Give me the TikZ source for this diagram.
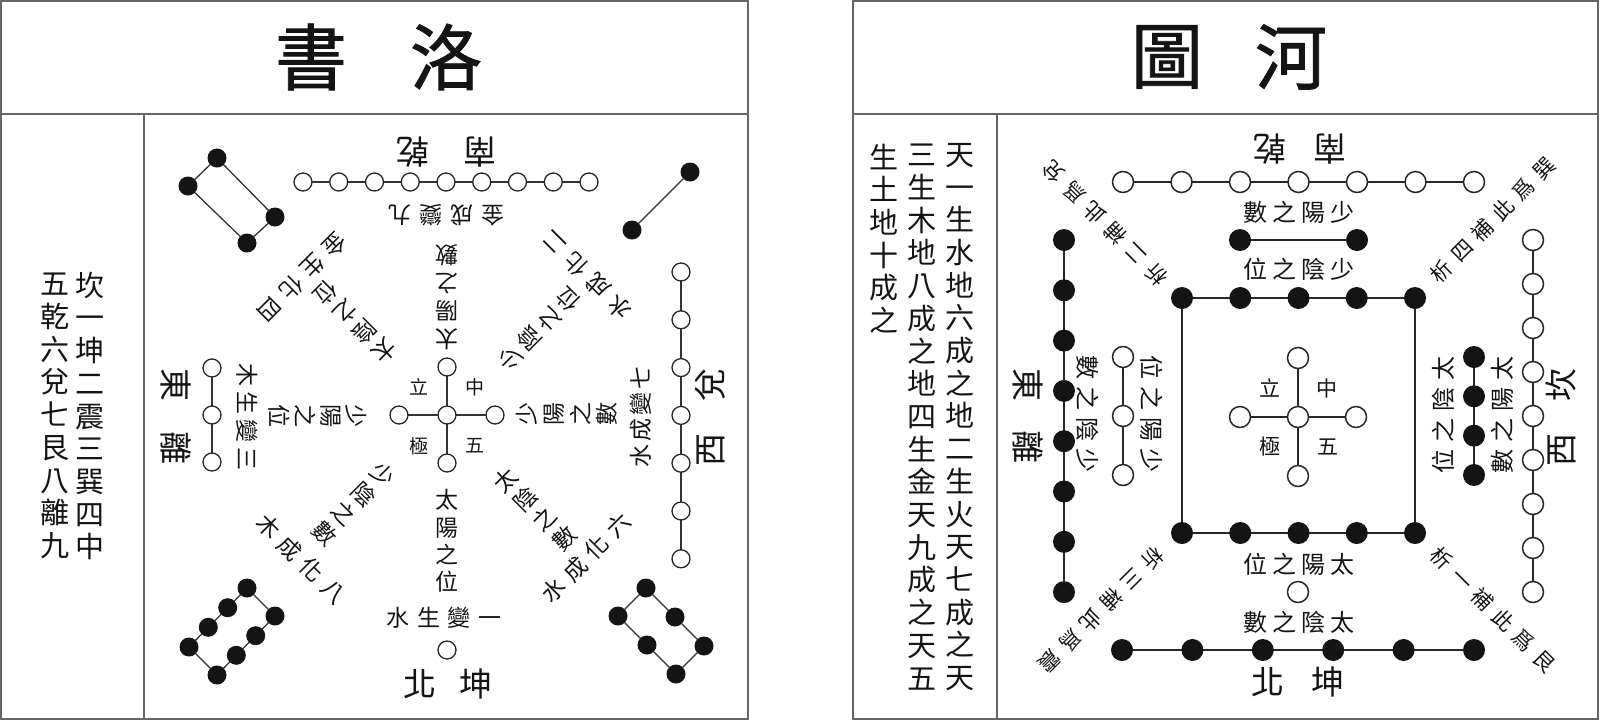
\documentclass[tikz,border=0pt]{standalone}
\usepackage{fontspec}
\newfontfamily\cjk{Noto Sans CJK TC}
\newfontfamily\cjkt[FakeBold=1.2]{Noto Sans CJK TC}
\usetikzlibrary{backgrounds}
\newlength\lgap
\newcommand\cf[3]{\fontsize{#1}{#2}\selectfont\cjk\setlength\lgap{#3}}
\newcommand\Kg{\hspace{\lgap}}
\begin{document}
\begin{tikzpicture}[x=1pt,y=-1pt,
  every node/.style={inner sep=0pt, outer sep=0pt, text=black!92},
  ocL/.style={circle, draw=black!85, line width=1.3pt, fill=white, minimum size=18pt},
  fcL/.style={circle, fill=black!92, minimum size=19pt},
  ocH/.style={circle, draw=black!85, line width=1.5pt, fill=white, minimum size=21pt},
  fcH/.style={circle, fill=black!92, minimum size=22pt},
  lnL/.style={draw=black!80, line width=1.3pt},
  lnH/.style={draw=black!85, line width=1.6pt},
  frame/.style={draw=black!60, line width=1.3pt},
  ttl/.style={font={\fontsize{72}{80}\selectfont\cjkt}},
  dir/.style={font={\cf{33}{38}{0pt}}},
  col/.style={font={\cf{29}{32.7}{0pt}}, align=center},
  cl/.style={font={\cf{19}{24}{0pt}}},
  rad/.style={font={\cf{23}{#1}{0pt}}, align=center},
  tan/.style={font={\cf{23}{28}{#1}}},
  hr/.style={font={\cf{24}{28}{5.3pt}}},
  hc/.style={font={\cf{24}{28}{7pt}}},
  hd/.style={font={\cf{21}{26}{8pt}}}
]
\useasboundingbox (0,0) rectangle (1600,721);

% ---------------- frames ----------------
\draw[frame] (1,1) rectangle (748,719);
\draw[frame] (1,114) -- (748,114);
\draw[frame] (144,114) -- (144,719);
\draw[frame] (853,1) rectangle (1598,719);
\draw[frame] (853,114) -- (1598,114);
\draw[frame] (997,114) -- (997,719);

% ---------------- titles ----------------
\node[ttl] (tL1) at (311,57) {書};
\node[ttl] (tL2) at (446,57) {洛};
\node[ttl] (tR1) at (1167,57) {圖};
\node[ttl] (tR2) at (1291,57) {河};

% ---------------- left texts ----------------
\node[col] (lt1) at (90,416) {坎\\一\\坤\\二\\震\\三\\巽\\四\\中};
\node[col] (lt2) at (55,416) {五\\乾\\六\\兌\\七\\艮\\八\\離\\九};
\node[col] (ht1) at (960,417) {天\\一\\生\\水\\地\\六\\成\\之\\地\\二\\生\\火\\天\\七\\成\\之\\天};
\node[col] (ht2) at (922,417) {三\\生\\木\\地\\八\\成\\之\\地\\四\\生\\金\\天\\九\\成\\之\\天\\五};
\node[col] (ht3) at (884,238.5) {生\\土\\地\\十\\成\\之};

% ================= LUOSHU =================
\node[ocL] (lc) at (447,415) {};
\node[ocL] (lcN) at (447,367) {};
\node[ocL] (lcS) at (447,463) {};
\node[ocL] (lcW) at (399,415) {};
\node[ocL] (lcE) at (495,415) {};
\foreach \i in {1,...,9} \node[ocL] (ls\i) at ({303+35.75*(\i-1)},182) {};
\node[ocL] (ln1) at (447,650) {};
\foreach \i/\y in {1/368,2/415,3/462} \node[ocL] (le\i) at (212,\y) {};
\foreach \i in {1,...,7} \node[ocL] (lw\i) at (681,{272+47.8*(\i-1)}) {};
% NW four
\node[fcL] (nw1) at (217,158) {};
\node[fcL] (nw2) at (188,186) {};
\node[fcL] (nw3) at (247,243) {};
\node[fcL] (nw4) at (275,217) {};
% NE two
\node[fcL] (ne1) at (690,172) {};
\node[fcL] (ne2) at (632,230) {};
% SW eight
\node[fcL] (sw1) at (247,588) {};
\node[fcL] (sw2) at (227.7,607.7) {};
\node[fcL] (sw3) at (208.3,627.3) {};
\node[fcL] (sw4) at (189,647) {};
\node[fcL] (sw5) at (217,675) {};
\node[fcL] (sw6) at (236.3,655.3) {};
\node[fcL] (sw7) at (255.7,635.7) {};
\node[fcL] (sw8) at (275,616) {};
% SE six
\node[fcL] (se1) at (646,588) {};
\node[fcL] (se2) at (675,617) {};
\node[fcL] (se3) at (704,646) {};
\node[fcL] (se4) at (676,674) {};
\node[fcL] (se5) at (647,645) {};
\node[fcL] (se6) at (618,616) {};

% center labels
\node[cl] (lc1) at (419,387) {立};
\node[cl] (lc2) at (475,387) {中};
\node[cl] (lc3) at (419,446) {極};
\node[cl] (lc4) at (475,446) {五};

% direction labels
\node[dir, rotate=180] (lN) at (446,152) {南\hspace{34pt}乾};
\node[dir] (lS) at (448,684) {北\hspace{24pt}坤};
\node[dir, rotate=-90] (lE) at (176,416) {東\hspace{30pt}離};
\node[dir, rotate=90] (lW) at (710,417) {西\hspace{32pt}兌};

% radial labels
\node[rad=28, rotate=180] (rN) at (447,297) {太\\陽\\之\\數};
\node[rad=27.3] (rS) at (447,541) {太\\陽\\之\\位};
\node[rad=25.7, rotate=-90] (rE) at (318,416) {少\\陽\\之\\位};
\node[rad=26.7, rotate=90] (rW) at (567,414) {少\\陽\\之\\數};
\node[rad=27.5, rotate=135] (rNE) at (539,329) {少\\陰\\之\\位};
\node[rad=27.5, rotate=225] (rNW) at (355,322) {太\\陰\\之\\位};
\node[rad=27.5, rotate=315] (rSW) at (354,504) {少\\陰\\之\\數};
\node[rad=27.5, rotate=45] (rSE) at (535,509) {太\\陰\\之\\數};

% outer labels
\node[tan=8pt, rotate=180] (oN) at (446,215) {金\Kg 成\Kg 變\Kg 九};
\node[tan=7.7pt] (oS) at (444,618) {水\Kg 生\Kg 變\Kg 一};
\node[tan=5pt, rotate=-90] (oE) at (247,417) {木\Kg 生\Kg 變\Kg 三};
\node[tan=3pt, rotate=90] (oW) at (641,417) {水\Kg 成\Kg 變\Kg 七};
\node[tan=7.7pt, rotate=135] (oNE) at (587,275) {水\Kg 成\Kg 化\Kg 二};
\node[tan=7.7pt, rotate=225] (oNW) at (302,277) {金\Kg 生\Kg 化\Kg 四};
\node[tan=7.7pt, rotate=315] (oSW) at (301,559) {木\Kg 成\Kg 化\Kg 八};
\node[tan=7.7pt, rotate=45] (oSE) at (586,558) {水\Kg 成\Kg 化\Kg 六};

% ================= HETU =================
\node[ocH] (hc) at (1298,417) {};
\node[ocH] (hcN) at (1298,358) {};
\node[ocH] (hcS) at (1298,476) {};
\node[ocH] (hcW) at (1240,417) {};
\node[ocH] (hcE) at (1356,417) {};
\foreach \i in {1,...,7} \node[ocH] (hs\i) at ({1123+58.5*(\i-1)},182) {};
\node[fcH] (hb1) at (1240,240) {};
\node[fcH] (hb2) at (1357,240) {};
\foreach \i in {1,...,5} {
  \node[fcH] (sqt\i) at ({1182+58.25*(\i-1)},298) {};
  \node[fcH] (sqb\i) at ({1182+58.25*(\i-1)},533) {};
}
\node[ocH] (hn0) at (1298,592) {};
\foreach \i in {1,...,6} \node[fcH] (hn\i) at ({1122+70.4*(\i-1)},650) {};
\foreach \i in {1,...,8} \node[fcH] (he\i) at (1064,{240+50.3*(\i-1)}) {};
\foreach \i/\y in {1/357,2/416,3/475} \node[ocH] (hei\i) at (1123,\y) {};
\foreach \i in {1,...,4} \node[fcH] (hwi\i) at (1474,{357+39.33*(\i-1)}) {};
\foreach \i in {1,...,9} \node[ocH] (hw\i) at (1533,{240+44*(\i-1)}) {};

% center labels
\node[cl, font={\cf{21}{24}{0pt}}] (hl1) at (1270,388) {立};
\node[cl, font={\cf{21}{24}{0pt}}] (hl2) at (1327,388) {中};
\node[cl, font={\cf{21}{24}{0pt}}] (hl3) at (1270,447) {極};
\node[cl, font={\cf{21}{24}{0pt}}] (hl4) at (1328,447) {五};

% direction labels
\node[dir, rotate=180] (hN) at (1300,149) {南\hspace{27pt}乾};
\node[dir] (hS) at (1298,682) {北\hspace{27pt}坤};
\node[dir, rotate=-90] (hE) at (1028,416) {東\hspace{29pt}離};
\node[dir, rotate=90] (hW) at (1561,417) {西\hspace{32pt}坎};

% rows
\node[hr] (hr1) at (1299,212) {數\Kg 之\Kg 陽\Kg 少};
\node[hr] (hr2) at (1299,269) {位\Kg 之\Kg 陰\Kg 少};
\node[hr] (hr3) at (1299,564) {位\Kg 之\Kg 陽\Kg 太};
\node[hr] (hr4) at (1299,622) {數\Kg 之\Kg 陰\Kg 太};
% side columns
\node[hc, rotate=-90] (hq1) at (1088,414) {數\Kg 之\Kg 陰\Kg 少};
\node[hc, rotate=-90] (hq2) at (1152,414) {位\Kg 之\Kg 陽\Kg 少};
\node[hc, rotate=90] (hq3) at (1443,415) {位\Kg 之\Kg 陰\Kg 太};
\node[hc, rotate=90] (hq4) at (1502,415) {數\Kg 之\Kg 陽\Kg 太};
% diagonals
\node[hd, rotate=135] (hd1) at (1105,223) {析\Kg 二\Kg 補\Kg 此\Kg 爲\Kg 兌};
\node[hd, rotate=45] (hd2) at (1493,220) {析\Kg 四\Kg 補\Kg 此\Kg 爲\Kg 巽};
\node[hd, rotate=225] (hd3) at (1101,610) {析\Kg 三\Kg 補\Kg 此\Kg 爲\Kg 震};
\node[hd, rotate=-45] (hd4) at (1493,610) {析\Kg 一\Kg 補\Kg 此\Kg 爲\Kg 艮};

% ================= connectors =================
\begin{scope}[on background layer]
\draw[lnL] (ls1) -- (ls9);
\draw[lnL] (lcN) -- (lcS);
\draw[lnL] (lcW) -- (lcE);
\draw[lnL] (le1) -- (le3);
\draw[lnL] (lw1) -- (lw7);
\draw[lnL] (nw1) -- (nw2) -- (nw3) -- (nw4) -- (nw1);
\draw[lnL] (ne1) -- (ne2);
\draw[lnL] (sw1) -- (sw2) -- (sw3) -- (sw4) -- (sw5) -- (sw6) -- (sw7) -- (sw8) -- (sw1);
\draw[lnL] (se1) -- (se2) -- (se3) -- (se4) -- (se5) -- (se6) -- (se1);

\draw[lnH] (hs1) -- (hs7);
\draw[lnH] (hb1) -- (hb2);
\draw[lnH] (sqt1) -- (sqt5);
\draw[lnH] (sqb1) -- (sqb5);
\draw[lnH] (sqt1) -- (sqb1);
\draw[lnH] (sqt5) -- (sqb5);
\draw[lnH] (hcN) -- (hcS);
\draw[lnH] (hcW) -- (hcE);
\draw[lnH] (hn1) -- (hn6);
\draw[lnH] (he1) -- (he8);
\draw[lnH] (hei1) -- (hei3);
\draw[lnH] (hwi1) -- (hwi4);
\draw[lnH] (hw1) -- (hw9);
\end{scope}
\end{tikzpicture}
\end{document}
